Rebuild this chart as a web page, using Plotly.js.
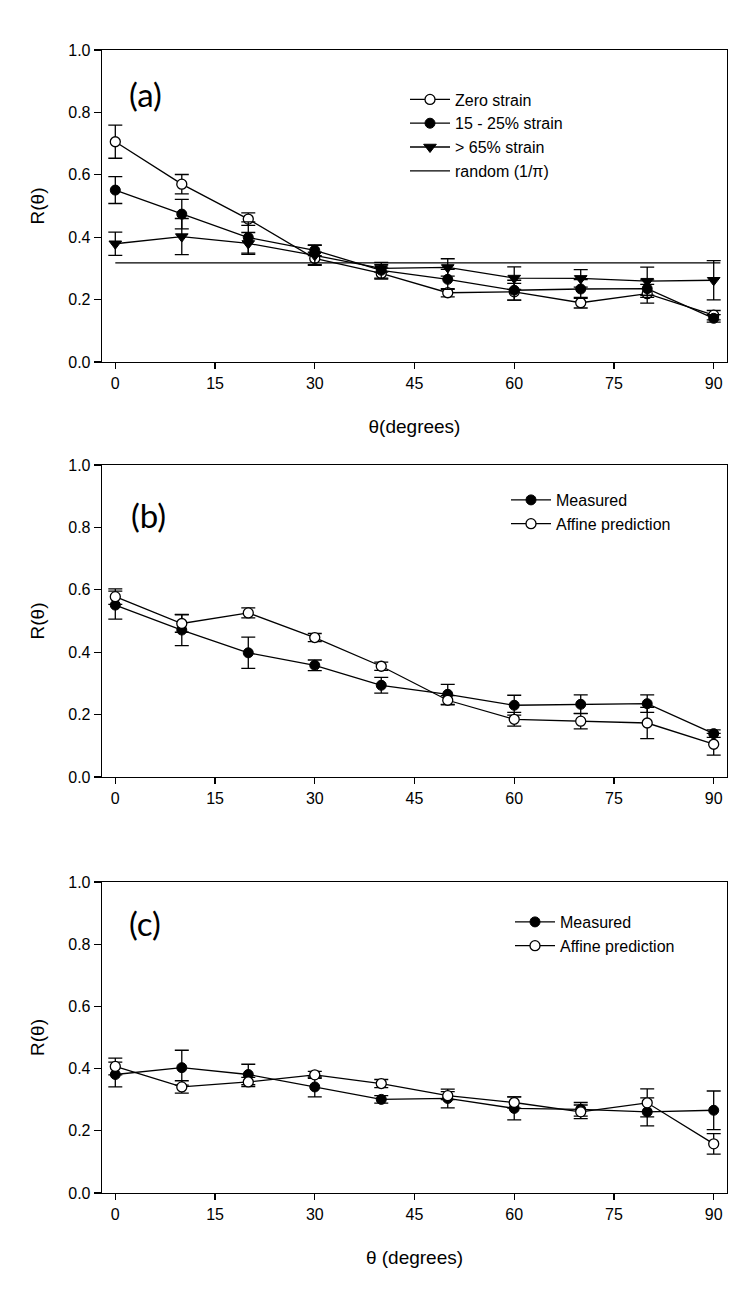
<!DOCTYPE html>
<html>
<head>
<meta charset="utf-8">
<script src="https://cdn.plot.ly/plotly-3.0.1.min.js"></script>
<style>
  html, body { margin: 0; padding: 0; background: #fff; }
  #chart { width: 750px; height: 1290px; }
</style>
</head>
<body>
<div id="chart"></div>
<script>
// ---------- data ----------
var theta = [0, 10, 20, 30, 40, 50, 60, 70, 80, 90];
var xTicks = [0, 15, 30, 45, 60, 75, 90];
var yTicks = [0, 0.2, 0.4, 0.6, 0.8, 1.0];

// panel (a)
var zeroStrain    = [0.706, 0.570, 0.458, 0.332, 0.284, 0.222, 0.225, 0.190, 0.219, 0.150];
var zeroStrainErr = [0.053, 0.031, 0.020, 0.020, 0.018, 0.013, 0.027, 0.017, 0.030, 0.015];
var midStrain     = [0.551, 0.474, 0.399, 0.358, 0.294, 0.265, 0.230, 0.234, 0.235, 0.140];
var midStrainErr  = [0.043, 0.047, 0.050, 0.017, 0.025, 0.032, 0.032, 0.030, 0.028, 0.012];
var highStrain    = [0.379, 0.402, 0.380, 0.342, 0.300, 0.303, 0.269, 0.268, 0.259, 0.262];
var highStrainErr = [0.037, 0.058, 0.035, 0.032, 0.012, 0.028, 0.036, 0.028, 0.045, 0.063];
var randomX = [0, 91];
var randomY = [0.318, 0.318];

// panel (b)
var measuredB    = [0.551, 0.471, 0.398, 0.358, 0.294, 0.265, 0.230, 0.233, 0.235, 0.139];
var measuredBErr = [0.045, 0.050, 0.050, 0.017, 0.025, 0.032, 0.032, 0.030, 0.028, 0.012];
var affineB      = [0.578, 0.492, 0.526, 0.447, 0.355, 0.246, 0.185, 0.179, 0.173, 0.105];
var affineBErr   = [0.025, 0.028, 0.016, 0.013, 0.013, 0.015, 0.022, 0.025, 0.050, 0.035];

// panel (c)
var measuredC    = [0.381, 0.403, 0.381, 0.341, 0.301, 0.304, 0.272, 0.269, 0.261, 0.266];
var measuredCErr = [0.040, 0.056, 0.033, 0.032, 0.012, 0.030, 0.037, 0.022, 0.045, 0.062];
var affineC      = [0.407, 0.341, 0.357, 0.380, 0.352, 0.313, 0.291, 0.261, 0.290, 0.158];
var affineCErr   = [0.027, 0.020, 0.015, 0.011, 0.013, 0.013, 0.018, 0.022, 0.045, 0.033];

// ---------- helpers ----------
var W = 750, H = 1290;
function px(x) { return x / W; }
function py(y) { return 1 - y / H; }

var FONT = 'Liberation Sans, Arial, sans-serif';
var errStyle = { type: 'data', visible: true, color: '#000', thickness: 1.3, width: 7 };
function err(arr) { return Object.assign({ array: arr }, errStyle); }

var openMarker = { symbol: 'circle', size: 10, color: '#fff', line: { color: '#000', width: 1.3 } };
var filledMarker = { symbol: 'circle', size: 10, color: '#000', line: { color: '#000', width: 1 } };
var triMarker = { symbol: 'triangle-down', size: 11, color: '#000', line: { color: '#000', width: 1 } };
var lineStyle = { color: '#000', width: 1.3 };

var traces = [
  // panel a
  { x: theta, y: zeroStrain, error_y: err(zeroStrainErr), name: 'Zero strain', mode: 'lines+markers',
    marker: openMarker, line: lineStyle, xaxis: 'x', yaxis: 'y', legend: 'legend' },
  { x: theta, y: midStrain, error_y: err(midStrainErr), name: '15 - 25% strain', mode: 'lines+markers',
    marker: filledMarker, line: lineStyle, xaxis: 'x', yaxis: 'y', legend: 'legend' },
  { x: theta, y: highStrain, error_y: err(highStrainErr), name: '> 65% strain', mode: 'lines+markers',
    marker: triMarker, line: lineStyle, xaxis: 'x', yaxis: 'y', legend: 'legend' },
  { x: randomX, y: randomY, name: 'random (1/π)', mode: 'lines',
    line: lineStyle, xaxis: 'x', yaxis: 'y', legend: 'legend' },
  // panel b
  { x: theta, y: measuredB, error_y: err(measuredBErr), name: 'Measured', mode: 'lines+markers',
    marker: filledMarker, line: lineStyle, xaxis: 'x2', yaxis: 'y2', legend: 'legend2' },
  { x: theta, y: affineB, error_y: err(affineBErr), name: 'Affine prediction', mode: 'lines+markers',
    marker: openMarker, line: lineStyle, xaxis: 'x2', yaxis: 'y2', legend: 'legend2' },
  // panel c
  { x: theta, y: measuredC, error_y: err(measuredCErr), name: 'Measured', mode: 'lines+markers',
    marker: filledMarker, line: lineStyle, xaxis: 'x3', yaxis: 'y3', legend: 'legend3' },
  { x: theta, y: affineC, error_y: err(affineCErr), name: 'Affine prediction', mode: 'lines+markers',
    marker: openMarker, line: lineStyle, xaxis: 'x3', yaxis: 'y3', legend: 'legend3' }
];

var xDomain = [px(102), px(727)];
function xAxis(anchor, titleText) {
  var a = {
    domain: xDomain, anchor: anchor, range: [-2, 92],
    tickvals: xTicks, ticktext: xTicks.map(String),
    showline: true, mirror: true, linecolor: '#000', linewidth: 1.3,
    ticks: 'outside', ticklen: 6, tickwidth: 1.3, tickcolor: '#000',
    showgrid: false, zeroline: false,
    tickfont: { family: FONT, size: 16, color: '#000' }
  };
  if (titleText) {
    a.title = { text: titleText, font: { family: FONT, size: 19, color: '#000' }, standoff: 29 };
  }
  return a;
}
function yAxis(anchor, top, bottom) {
  return {
    domain: [py(bottom), py(top)], anchor: anchor, range: [0, 1],
    tickvals: yTicks, ticktext: yTicks.map(function (v) { return v.toFixed(1); }),
    showline: true, mirror: true, linecolor: '#000', linewidth: 1.3,
    ticks: 'outside', ticklen: 7, tickwidth: 1.3, tickcolor: '#000',
    showgrid: false, zeroline: false,
    tickfont: { family: FONT, size: 16, color: '#000' },
    title: { text: 'R(θ)', font: { family: FONT, size: 19, color: '#000' }, standoff: 18 }
  };
}

var legendFont = { family: FONT, size: 16, color: '#000' };
function legendAt(x, y) {
  return { x: px(x), y: py(y), xanchor: 'left', yanchor: 'top', font: legendFont,
           bgcolor: 'rgba(0,0,0,0)', borderwidth: 0, itemwidth: 40, tracegroupgap: 0 };
}

function panelLabel(text, x, y) {
  return { text: text, x: px(x), y: py(y), xref: 'paper', yref: 'paper',
           xanchor: 'center', yanchor: 'middle', showarrow: false,
           font: { family: 'Lato, Open Sans, sans-serif', size: 33, color: '#000' } };
}

var layout = {
  width: W, height: H,
  margin: { l: 0, r: 0, t: 0, b: 0 },
  paper_bgcolor: '#fff', plot_bgcolor: '#fff',
  showlegend: true,
  xaxis: xAxis('y', 'θ(degrees)'),
  yaxis: yAxis('x', 50, 362),
  xaxis2: xAxis('y2', null),
  yaxis2: yAxis('x2', 465, 777),
  xaxis3: xAxis('y3', 'θ (degrees)'),
  yaxis3: yAxis('x3', 882, 1193),
  legend: legendAt(405, 82.5),
  legend2: legendAt(506, 483),
  legend3: legendAt(510, 905),
  annotations: [
    panelLabel('(a)', 145, 94),
    panelLabel('(b)', 148, 515),
    panelLabel('(c)', 145, 923)
  ]
};

Plotly.newPlot('chart', traces, layout, { displayModeBar: false, staticPlot: true });
</script>
</body>
</html>
